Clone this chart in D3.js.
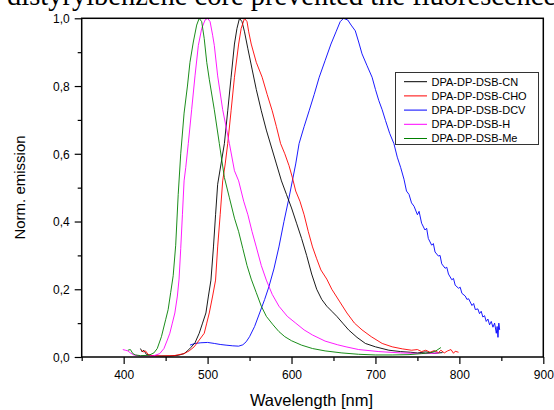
<!DOCTYPE html>
<html>
<head>
<meta charset="utf-8">
<script src="https://cdn.jsdelivr.net/npm/d3@7"></script>
<style>
html,body{margin:0;padding:0;background:#fff;overflow:hidden;}
svg{display:block;}
</style>
</head>
<body>
<svg id="chart" width="554" height="410"></svg>
<script>
// ---- data ----
const xTicks = [400, 500, 600, 700, 800, 900];
const xMinorTicks = [350, 450, 550, 650, 750, 850];
const yTicks = [0, 0.2, 0.4, 0.6, 0.8, 1.0];
const yMinorTicks = [0.1, 0.3, 0.5, 0.7, 0.9];
const seriesNames = ["DPA-DP-DSB-CN", "DPA-DP-DSB-CHO", "DPA-DP-DSB-DCV", "DPA-DP-DSB-H", "DPA-DP-DSB-Me"];
const seriesColors = ["#000000", "#ff0000", "#0000ff", "#ff00ff", "#008000"];

const cnWl  = [420,422,424,427,432,440,455,465,472,476,480,485,490,494,498,501,504,507,509.5,512,516,520,524,528,532,535,538,541,544,548,553,558,564,570,576,582,588,594,600,606,612,618,624,630,636,642,648,654,661,668,678,688,700,716,730,742,750,760,770,780];
const cnVal = [0.025,0.015,0.02,0.008,0.004,0.003,0.003,0.005,0.01,0.018,0.028,0.042,0.07,0.1,0.13,0.18,0.227,0.325,0.42,0.51,0.57,0.63,0.727,0.826,0.924,0.97,1.0,0.99,0.96,0.91,0.85,0.79,0.727,0.67,0.62,0.57,0.52,0.48,0.44,0.395,0.35,0.3,0.245,0.2,0.17,0.15,0.135,0.12,0.1,0.08,0.058,0.04,0.03,0.02,0.016,0.014,0.012,0.015,0.011,0.013];

const choWl  = [421,424,426,429,433,445,460,472,478,484,490,496,499,502,506,509.5,512,515,518,521,524,528,532,537,540,544,547,549,552,558,565,571,577,582,587,592,597,601,605,610,615,620,625,630,635,642,648,657,666,675,684,695,708,720,732,743,750,755,760,765,770,775,778,782,786,790,793,795,799];
const choVal = [0.02,0.015,0.018,0.008,0.004,0.003,0.004,0.01,0.018,0.03,0.05,0.07,0.1,0.13,0.18,0.227,0.325,0.42,0.52,0.57,0.63,0.727,0.826,0.924,0.97,1.0,0.99,0.96,0.924,0.87,0.826,0.775,0.727,0.68,0.63,0.6,0.565,0.53,0.49,0.46,0.42,0.37,0.325,0.29,0.257,0.23,0.2,0.165,0.13,0.1,0.08,0.06,0.04,0.03,0.024,0.02,0.022,0.016,0.02,0.014,0.019,0.013,0.02,0.012,0.018,0.022,0.011,0.017,0.014];

const dcvWl  = [479,485,492,500,508,515,522,530,537,542,546,550,556,562,568,573,579,585,591,597,601,605,609,615,621,627,633,640,647,653,658,662,667,671,676,680,684,690,696,700,704,708,712,717,722,726,730,734,737,740,743,746,750,752,755,759,761,763,767,769,771,775,777,779,783,785,787,791,793,795,799,801,803,807,809,811,815,817,819,822,824,826,828,830,832,834,836,838,840,842,844,845,846,847,848];
const dcvVal = [0.035,0.04,0.042,0.043,0.04,0.037,0.035,0.033,0.032,0.036,0.045,0.06,0.09,0.13,0.17,0.207,0.26,0.325,0.4,0.47,0.52,0.57,0.63,0.68,0.727,0.775,0.826,0.875,0.924,0.96,0.99,1.0,0.995,0.98,0.963,0.93,0.895,0.86,0.826,0.79,0.757,0.73,0.698,0.66,0.63,0.59,0.56,0.525,0.49,0.48,0.455,0.445,0.42,0.43,0.395,0.375,0.38,0.35,0.33,0.335,0.31,0.298,0.3,0.275,0.262,0.265,0.245,0.228,0.232,0.212,0.203,0.206,0.188,0.18,0.17,0.172,0.152,0.158,0.14,0.142,0.128,0.135,0.118,0.122,0.105,0.112,0.095,0.105,0.088,0.1,0.07,0.09,0.058,0.1,0.08];

const hWl  = [399,402,405,408,412,420,435,443,448,452,455,458,461,464,466,468,470,472,474,477,481,485,489,493,497,500,503,506,508,512,518,526,532,537,543,548,553,558,564,570,577,585,595,605,615,625,640,655,665,680,704,730,760,775];
const hVal = [0.022,0.02,0.018,0.012,0.006,0.003,0.003,0.01,0.025,0.05,0.07,0.1,0.13,0.18,0.23,0.32,0.42,0.52,0.56,0.63,0.73,0.83,0.92,0.97,0.995,1.0,0.99,0.95,0.92,0.83,0.73,0.63,0.55,0.52,0.46,0.42,0.37,0.325,0.27,0.227,0.185,0.15,0.12,0.1,0.08,0.065,0.047,0.036,0.03,0.022,0.016,0.012,0.01,0.012];

const meWl  = [405,408,411,414,420,430,436,440,445,450,453,456,459,462,465,468,472,476,479,483,487,490,493,496,499,502,508,514,520,526,532,537,542,547,552,558,564,570,578,585,592,600,612,625,640,660,680,700,720,740,755,765,772,778];
const meVal = [0.02,0.022,0.01,0.006,0.004,0.005,0.012,0.025,0.06,0.11,0.14,0.19,0.24,0.33,0.48,0.6,0.72,0.8,0.87,0.93,0.98,1.0,0.99,0.94,0.87,0.82,0.73,0.63,0.53,0.47,0.41,0.37,0.32,0.27,0.23,0.19,0.15,0.12,0.095,0.075,0.06,0.048,0.035,0.025,0.018,0.012,0.008,0.006,0.006,0.007,0.01,0.012,0.018,0.028];

const seriesWl  = [cnWl, choWl, dcvWl, hWl, meWl];
const seriesVal = [cnVal, choVal, dcvVal, hVal, meVal];

// ---- chart ----
const svg = d3.select("#chart");
const mLeft = 81.7, mRight = 543.3, mTop = 18.3, mBottom = 357;
const x = d3.scaleLinear().domain([350, 900]).range([mLeft, mRight]);
const y = d3.scaleLinear().domain([0, 1]).range([mBottom, mTop]);

// clipped caption text at top (partly outside the picture, as in the reference)
svg.append("text")
  .attr("x", 7).attr("y", 5)
  .attr("font-family", "'Liberation Serif','Times New Roman',serif")
  .attr("font-size", 28.5)
  .attr("fill", "#000")
  .text("distyrylbenzene core prevented the fluorescence");

const plot = svg.append("g");
const line = d3.line().x(d => x(d[0])).y(d => y(d[1]));
plot.append("clipPath").attr("id", "clip").append("rect")
  .attr("x", mLeft).attr("y", mTop - 2).attr("width", mRight - mLeft).attr("height", mBottom - mTop + 2);

const order = [2, 0, 1, 3, 4];
order.forEach(i => {
  const pts = seriesWl[i].map((w, k) => [w, seriesVal[i][k]]);
  plot.append("path")
    .attr("d", line(pts))
    .attr("fill", "none")
    .attr("stroke", seriesColors[i])
    .attr("stroke-width", 0.9)
    .attr("stroke-linejoin", "round")
    .attr("clip-path", "url(#clip)");
});

const font = "'Liberation Sans', Arial, sans-serif";
const fmt = d => d3.format(".1f")(d).replace(".", ",");

// axes
const xAxis = svg.append("g").attr("transform", `translate(0,${mBottom})`)
  .call(d3.axisBottom(x).tickValues(xTicks).tickSize(7).tickPadding(6).tickFormat(d3.format("d")));
const xMinor = svg.append("g").attr("transform", `translate(0,${mBottom})`)
  .call(d3.axisBottom(x).tickValues(xMinorTicks).tickSize(4).tickFormat(""));
const yAxis = svg.append("g").attr("transform", `translate(${mLeft},0)`)
  .call(d3.axisLeft(y).tickValues(yTicks).tickSize(7).tickPadding(5).tickFormat(fmt));
const yMinor = svg.append("g").attr("transform", `translate(${mLeft},0)`)
  .call(d3.axisLeft(y).tickValues(yMinorTicks).tickSize(4).tickFormat(""));

[xAxis, xMinor, yAxis, yMinor].forEach(g => {
  g.select(".domain").remove();
  g.selectAll("line").attr("stroke", "#000").attr("stroke-width", 1.2);
  g.selectAll("text").attr("font-family", font).attr("font-size", 12).attr("fill", "#000");
});
yAxis.selectAll("text").attr("dy", "0.36em");

// frame
svg.append("rect")
  .attr("x", mLeft).attr("y", mTop).attr("width", mRight - mLeft).attr("height", mBottom - mTop)
  .attr("fill", "none").attr("stroke", "#000").attr("stroke-width", 1.5);

// axis titles
svg.append("text")
  .attr("x", 311.5).attr("y", 406)
  .attr("text-anchor", "middle")
  .attr("font-family", font).attr("font-size", 16.5)
  .text("Wavelength [nm]");
svg.append("text")
  .attr("transform", "translate(25,187.5) rotate(-90)")
  .attr("text-anchor", "middle")
  .attr("font-family", font).attr("font-size", 15)
  .text("Norm. emission");

// legend
const lg = svg.append("g");
lg.append("rect")
  .attr("x", 395.5).attr("y", 72.5).attr("width", 143).attr("height", 72)
  .attr("fill", "#fff").attr("stroke", "#333").attr("stroke-width", 1);
seriesNames.forEach((n, i) => {
  const yy = 81.7 + i * 14.2;
  lg.append("line")
    .attr("x1", 404).attr("x2", 427).attr("y1", yy).attr("y2", yy)
    .attr("stroke", seriesColors[i]).attr("stroke-width", 1);
  lg.append("text")
    .attr("x", 431.5).attr("y", yy).attr("dy", "0.36em")
    .attr("font-family", font).attr("font-size", 11)
    .text(n);
});
</script>
</body>
</html>
